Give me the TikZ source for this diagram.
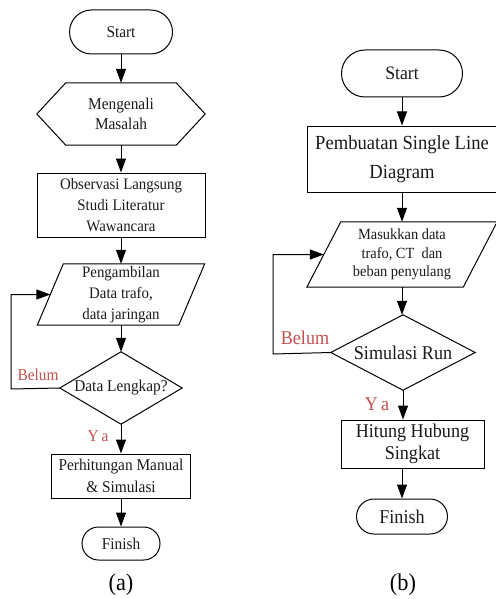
\documentclass[tikz,border=0pt]{standalone}
\usepackage{fontspec}
\setmainfont[FakeStretch=0.93]{Liberation Serif}
\usetikzlibrary{arrows.meta,calc}
\definecolor{labred}{HTML}{C0504D}
\definecolor{ink}{HTML}{1A1A1A}
\newcommand{\myfs}[2]{\fontsize{#1}{#2}\selectfont}
\tikzset{
  shp/.style={inner sep=0pt, align=center, text=ink},
  boxed/.style={shp, draw, line width=1pt},
  term/.style={boxed, rounded corners=#1},
  bare/.style={shp, draw=none},
  outline/.style={draw, line width=1pt, line join=miter},
  flow/.style={draw, line width=1pt, -{Triangle[length=14pt,width=10pt]}},
  lbl/.style={inner sep=0pt, text=labred},
}
\begin{document}
\begin{tikzpicture}[x=1pt,y=-1pt]
\useasboundingbox (0,0) rectangle (495,599);

% ---------------- (a) ----------------
\node[term=22pt, minimum width=103pt, minimum height=44pt, font=\myfs{16.5}{20}] (s1) at (121,32) {Start};
\node[bare, minimum width=168pt, minimum height=62pt, font=\myfs{16.5}{20}] (h1) at (121,114) {Mengenali\\Masalah};
\draw[outline] (h1.west) -- ([xshift=29pt]h1.north west) -- ([xshift=-29pt]h1.north east) -- (h1.east) -- ([xshift=-29pt]h1.south east) -- ([xshift=29pt]h1.south west) -- cycle;
\node[boxed, minimum width=168pt, minimum height=64pt, font=\myfs{16}{21}] (r1) at (121,205) {Observasi Langsung\\Studi Literatur\\Wawancara};
\node[bare, minimum width=167pt, minimum height=61pt, font=\myfs{16}{21}] (p1) at (121,294.5) {Pengambilan\\Data trafo,\\data jaringan};
\draw[outline] ([xshift=26pt]p1.north west) -- (p1.north east) -- ([xshift=-26pt]p1.south east) -- (p1.south west) -- cycle;
\coordinate (p1in) at ($([xshift=26pt]p1.north west)!0.5!(p1.south west)$);
\node[bare, minimum width=122pt, minimum height=72pt, font=\myfs{16.5}{20}] (d1) at (121,388) {Data Lengkap?};
\draw[outline] (d1.north) -- (d1.east) -- (d1.south) -- (d1.west) -- cycle;
\node[boxed, minimum width=139pt, minimum height=44pt, font=\myfs{16.5}{22}] (r2) at (121,476) {Perhitungan Manual\\\& Simulasi};
\node[term=16.5pt, minimum width=78pt, minimum height=33pt, font=\myfs{16.5}{20}] (f1) at (121,543.5) {Finish};

\draw[flow] (s1) -- (h1);
\draw[flow] (h1) -- (r1);
\draw[flow] (r1) -- (p1);
\draw[flow] (p1) -- (d1);
\draw[flow] (d1) -- (r2);
\draw[flow] (r2) -- (f1);
\coordinate (fa) at (11,389);
\draw[flow] (d1.west) -- (fa) |- (p1in);

\node[lbl, font=\myfs{16.5}{20}] (bel1) at (38,375) {Belum};
\node[lbl, font=\myfs{16.5}{20}] (ya1) at (98,436) {Y\,a};
\node[inner sep=0pt, font=\myfs{24}{28}] (capa) at (121,585) {(a)};

% ---------------- (b) ----------------
\node[term=23.5pt, minimum width=121pt, minimum height=47pt, font=\myfs{19}{22}] (s2) at (402,73.5) {Start};
\node[boxed, minimum width=190pt, minimum height=66pt, font=\myfs{20}{29}] (r3) at (402,159) {Pembuatan Single Line\\Diagram};
\node[bare, minimum width=190pt, minimum height=65pt, font=\myfs{15.5}{18.3}] (p2) at (402,254.5) {Masukkan data\\trafo, CT~ dan\\beban penyulang};
\draw[outline] ([xshift=34pt]p2.north west) -- (p2.north east) -- ([xshift=-34pt]p2.south east) -- (p2.south west) -- cycle;
\coordinate (p2in) at ($([xshift=34pt]p2.north west)!0.5!(p2.south west)$);
\node[bare, minimum width=144pt, minimum height=75pt, font=\myfs{19.5}{22}] (d2) at (403,352.5) {Simulasi Run};
\draw[outline] (d2.north) -- (d2.east) -- (d2.south) -- (d2.west) -- cycle;
\node[boxed, minimum width=143pt, minimum height=48pt, font=\myfs{19.5}{21.7}] (r4) at (412.5,444) {Hitung Hubung\\Singkat};
\node[term=17.5pt, minimum width=91pt, minimum height=35pt, font=\myfs{19.5}{22}] (f2) at (402,516.5) {Finish};

\draw[flow] (s2) -- (r3);
\draw[flow] (r3) -- (p2);
\draw[flow] (p2.south) -- (p2.south |- d2.north);
\draw[flow] (d2.south) -- (d2.south |- r4.north);
\draw[flow] (f2.north |- r4.south) -- (f2.north);
\coordinate (fb) at (273,354);
\draw[flow] (d2.west) -- (fb) |- (p2in);

\node[lbl, font=\myfs{19.5}{22}] (bel2) at (305,338) {Belum};
\node[lbl, font=\myfs{19.5}{22}] (ya2) at (377,404) {Y\,a};
\node[inner sep=0pt, font=\myfs{24}{28}] (capb) at (403,585) {(b)};
\end{tikzpicture}
\end{document}
